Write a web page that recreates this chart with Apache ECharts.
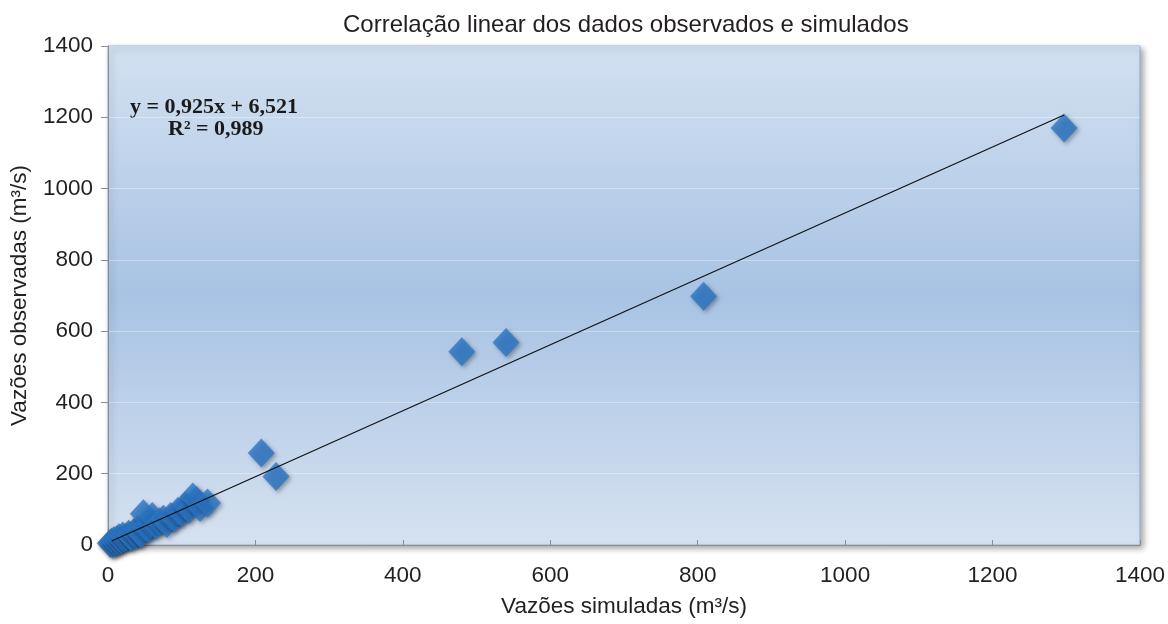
<!DOCTYPE html>
<html>
<head>
<meta charset="utf-8">
<script src="https://cdn.jsdelivr.net/npm/echarts@6/dist/echarts.min.js"></script>
<style>html,body{margin:0;padding:0;background:#fff}#c{width:1168px;height:624px}</style>
</head>
<body>
<div id="c"></div>
<script>
var simulated = [3,5,6,8,10,12,14,15,18,20,22,25,28,30,32,35,38,40,42,45,48,50,55,58,60,65,70,75,80,85,90,95,100,105,110,115,120,125,135,208,228,480,540,808,1297];
var observed  = [5,8,3,12,6,15,10,20,14,25,18,22,30,26,20,35,28,42,36,30,88,50,45,60,80,55,65,72,60,80,75,95,90,110,100,135,125,105,118,258,192,542,568,698,1170];
var trendSlope = 0.925;
var trendIntercept = 6.521;
var trendRange = [5, 1297];
var xTicks = [0,200,400,600,800,1000,1200,1400];
var yTicks = [0,200,400,600,800,1000,1200,1400];
var titleText = 'Correlação linear dos dados observados e simulados';
var xName = 'Vazões simuladas (m³/s)';
var yName = 'Vazões observadas (m³/s)';
var eqLine1 = 'y = 0,925x + 6,521';
var eqLine2 = 'R² = 0,989';

var points = simulated.map(function(v,i){return [v, observed[i]];});
var trend = trendRange.map(function(x){return [x, trendSlope*x + trendIntercept];});

var chart = echarts.init(document.getElementById('c'));
var font = 'Liberation Sans, Arial, sans-serif';
chart.setOption({
  animation:false,
  backgroundColor:'#ffffff',
  title:{text:titleText,left:338,top:8,textStyle:{fontFamily:font,fontSize:24,fontWeight:'normal',color:'#231f20'}},
  grid:{left:108,right:27,top:46,bottom:79,show:true,borderColor:'#8fb0dc',borderWidth:1,
    backgroundColor:new echarts.graphic.LinearGradient(0,0,0,1,[
      {offset:0,color:'#d3e1f1'},{offset:0.5,color:'#a8c3e4'},{offset:1,color:'#d6e2f1'}]),
    shadowColor:'rgba(0,0,0,0.35)',shadowBlur:6,shadowOffsetX:3,shadowOffsetY:3},
  xAxis:{type:'value',min:0,max:1400,interval:200,
    name:xName,nameLocation:'middle',nameGap:50,nameTextStyle:{fontFamily:font,fontSize:22.5,color:'#231f20'},
    axisLine:{show:true,lineStyle:{color:'#8c8c8c',width:1}},
    axisTick:{show:true,inside:true,length:5,lineStyle:{color:'#8c8c8c'}},
    axisLabel:{margin:19,fontFamily:font,fontSize:22.5,color:'#231f20',
      formatter:function(v){return xTicks.indexOf(v)>=0?String(v):'';}},
    splitLine:{show:false}},
  yAxis:{type:'value',min:0,max:1400,interval:200,
    name:yName,nameLocation:'middle',nameGap:77,nameRotate:90,nameTextStyle:{fontFamily:font,fontSize:22.5,color:'#231f20'},
    axisLine:{show:true,lineStyle:{color:'#8c8c8c',width:1}},
    axisTick:{show:true,inside:false,length:7,lineStyle:{color:'#8c8c8c'}},
    axisLabel:{margin:15,fontFamily:font,fontSize:22.5,color:'#231f20',
      formatter:function(v){return yTicks.indexOf(v)>=0?String(v):'';}},
    splitLine:{show:true,lineStyle:{color:'rgba(255,255,255,0.35)',width:1}}},
  graphic:[
    {type:'text',left:130,top:96,style:{text:eqLine1,font:'bold 22px "Liberation Serif", "DejaVu Serif", serif',fill:'#1a1a1a'}},
    {type:'text',left:168,top:118,style:{text:eqLine2,font:'bold 22px "Liberation Serif", "DejaVu Serif", serif',fill:'#1a1a1a'}}
  ],
  series:[
    {type:'scatter',data:points,symbol:'diamond',symbolSize:[27,29],z:2,
      itemStyle:{color:'#2b76c6',shadowColor:'rgba(0,0,0,0.4)',shadowBlur:4,shadowOffsetX:2,shadowOffsetY:2}},
    {type:'line',data:trend,symbol:'none',z:3,lineStyle:{color:'#111',width:1.2},silent:true}
  ]
});
</script>
</body>
</html>
